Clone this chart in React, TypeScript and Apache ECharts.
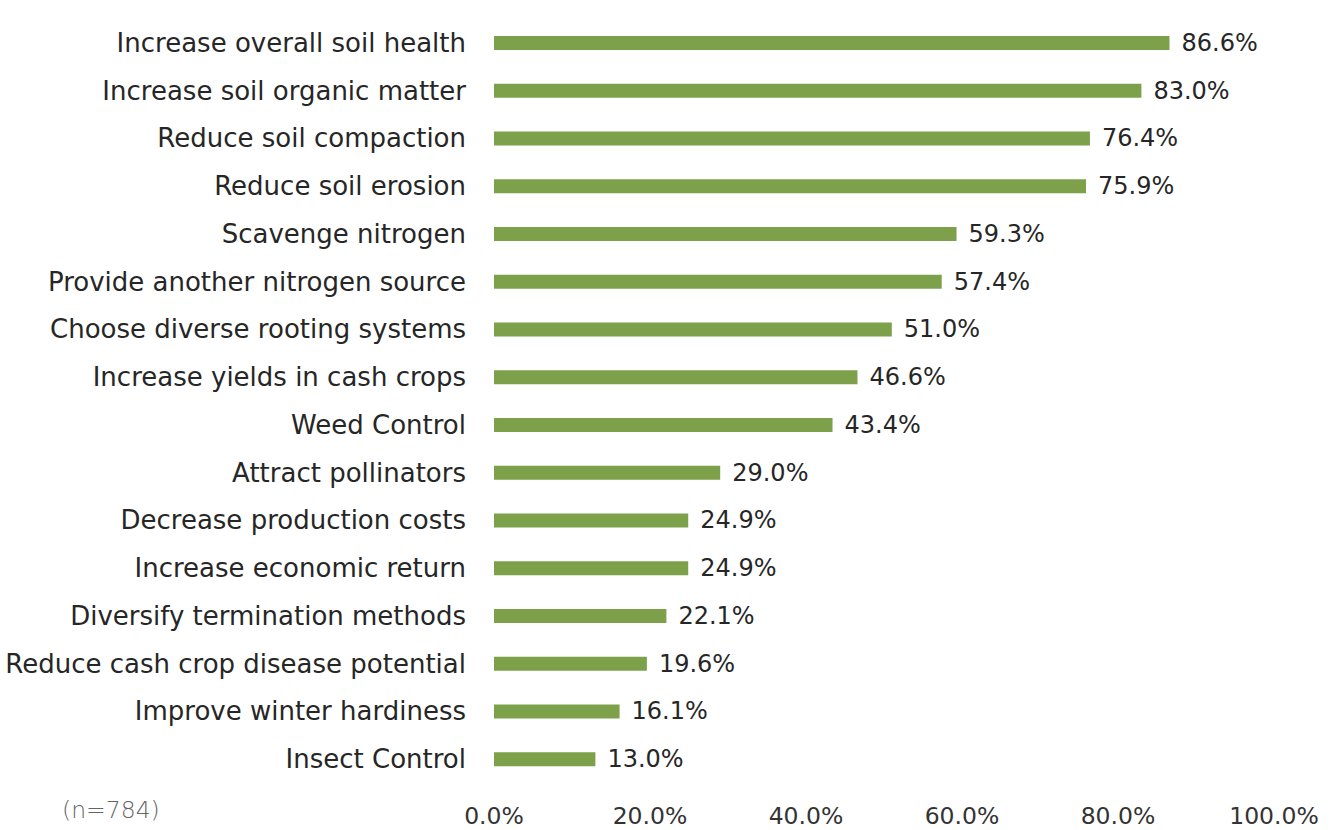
import React, { useEffect, useRef } from "react";
import * as echarts from "echarts";

const categories = [
  "Increase overall soil health",
  "Increase soil organic matter",
  "Reduce soil compaction",
  "Reduce soil erosion",
  "Scavenge nitrogen",
  "Provide another nitrogen source",
  "Choose diverse rooting systems",
  "Increase yields in cash crops",
  "Weed Control",
  "Attract pollinators",
  "Decrease production costs",
  "Increase economic return",
  "Diversify termination methods",
  "Reduce cash crop disease potential",
  "Improve winter hardiness",
  "Insect Control",
];
const values = [86.6, 83.0, 76.4, 75.9, 59.3, 57.4, 51.0, 46.6, 43.4, 29.0, 24.9, 24.9, 22.1, 19.6, 16.1, 13.0];
const note = "(n=784)";

export default function App() {
  const ref = useRef<HTMLDivElement>(null);
  useEffect(() => {
    const chart = echarts.init(ref.current!, null, { renderer: "svg" });
    const font = "'DejaVu Sans', sans-serif";
    chart.setOption({
      animation: false,
      backgroundColor: "#ffffff",
      grid: { left: 494, right: 64, top: 19, bottom: 47, containLabel: false },
      xAxis: {
        type: "value",
        min: 0,
        max: 100,
        interval: 20,
        axisLine: { show: false },
        axisTick: { show: false },
        splitLine: { show: false },
        axisLabel: {
          formatter: (v: number) => v.toFixed(1) + "%",
          color: "#333",
          fontSize: 23.5,
          fontFamily: font,
          margin: 21,
        },
      },
      yAxis: {
        type: "category",
        data: categories,
        inverse: true,
        axisLine: { show: false },
        axisTick: { show: false },
        splitLine: { show: false },
        axisLabel: {
          color: "#262626",
          fontSize: 26,
          fontFamily: font,
          margin: 28,
        },
      },
      graphic: [
        {
          type: "text",
          left: 62,
          top: 798,
          style: { text: note, fill: "#666666", fontSize: 23.5, fontFamily: font, fontWeight: 200 },
        },
      ],
      series: [
        {
          type: "bar",
          data: values,
          barWidth: 14,
          itemStyle: { color: "#7da14a" },
          label: {
            show: true,
            position: "right",
            distance: 12,
            formatter: (p: any) => p.value.toFixed(1) + "%",
            color: "#262626",
            fontSize: 24,
            fontFamily: font,
          },
        },
      ],
    });
    return () => chart.dispose();
  }, []);
  return (
    <div
      ref={ref}
      style={{ position: "fixed", left: 0, top: 0, width: 1338, height: 830 }}
    />
  );
}
